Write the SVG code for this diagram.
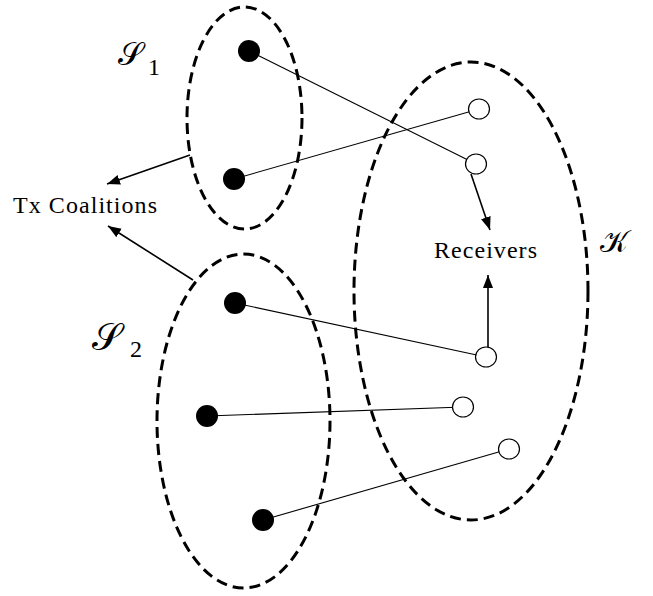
<svg xmlns="http://www.w3.org/2000/svg" width="653" height="596" viewBox="0 0 653 596">
<defs>
<style>
.set{fill:none;stroke:#000;stroke-width:3;stroke-dasharray:11 6}
.link{stroke:#000;stroke-width:1.1;fill:none}
.arr{stroke:#000;stroke-width:1.6;fill:none;marker-end:url(#ah)}
.tx{fill:#000}
.rx{fill:#fff;stroke:#000;stroke-width:1.2}
.lbl{font-family:"Liberation Serif","Times New Roman",serif;font-size:24px;fill:#000}
.math{font-family:"DejaVu Serif","Liberation Serif",serif;fill:#000}
.sub{font-family:"Liberation Serif","Times New Roman",serif;font-size:24px;fill:#000}
</style>
<marker id="ah" markerUnits="userSpaceOnUse" markerWidth="14" markerHeight="11" refX="13" refY="5" orient="auto">
<path d="M0,0 L13,5 L0,10 z" fill="#000"/>
</marker>
</defs>
<rect width="653" height="596" fill="#fff"/>
<g id="sets">
<ellipse id="S1" class="set" cx="244.5" cy="118" rx="57.5" ry="111"/>
<ellipse id="S2" class="set" cx="243.5" cy="421" rx="86.5" ry="167"/>
<ellipse id="K" class="set" cx="471" cy="291" rx="117" ry="229"/>
</g>
<g id="connectors">
<line class="link" x1="249" y1="51" x2="476" y2="164"/>
<line class="link" x1="234" y1="179" x2="479" y2="109"/>
<line class="link" x1="235" y1="303" x2="486" y2="357"/>
<line class="link" x1="207" y1="416" x2="463" y2="407"/>
<line class="link" x1="263" y1="520" x2="509" y2="449"/>
<line class="arr" x1="190" y1="155" x2="107" y2="184"/>
<line class="arr" x1="193" y1="280" x2="108" y2="226"/>
<line class="arr" x1="471" y1="174" x2="490" y2="230"/>
<line class="arr" x1="488" y1="347" x2="488" y2="275"/>
</g>
<g id="tx-nodes">
<circle id="t1" class="tx" cx="249" cy="51" r="11"/>
<circle id="t2" class="tx" cx="234" cy="179" r="11"/>
<circle id="t3" class="tx" cx="235" cy="303" r="11"/>
<circle id="t4" class="tx" cx="207" cy="416" r="11"/>
<circle id="t5" class="tx" cx="263" cy="520" r="11"/>
</g>
<g id="rx-nodes">
<ellipse id="r1" class="rx" cx="479" cy="109" rx="10.5" ry="10"/>
<ellipse id="r2" class="rx" cx="476" cy="164" rx="10.5" ry="10"/>
<ellipse id="r3" class="rx" cx="486" cy="357" rx="10.5" ry="10"/>
<ellipse id="r4" class="rx" cx="463" cy="407" rx="10.5" ry="10"/>
<ellipse id="r5" class="rx" cx="509" cy="449" rx="10.5" ry="10"/>
</g>
<g id="labels">
<text class="lbl" x="13" y="213" textLength="144" lengthAdjust="spacing">Tx Coalitions</text>
<text class="lbl" x="434" y="258" textLength="103" lengthAdjust="spacing">Receivers</text>
<text class="math" x="118" y="65" font-size="32">𝒮</text>
<text class="sub" x="148" y="75">1</text>
<text class="math" x="92" y="350" font-size="38">𝒮</text>
<text class="sub" x="130" y="357">2</text>
<text class="math" x="600" y="252" font-size="30">𝒦</text>
</g>
</svg>
